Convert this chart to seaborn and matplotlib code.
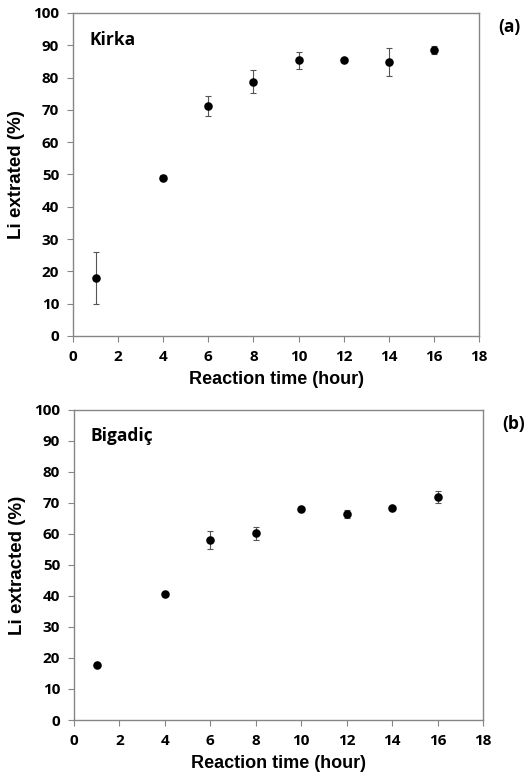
"""
Li extraction vs reaction time, Kirka and Bigadic
"""

import pandas as pd
import matplotlib.pyplot as plt
import seaborn as sns

# Data
hours = [1, 4, 6, 8, 10, 12, 14, 16]
kirka_li = [18.0, 49.0, 71.2, 78.7, 85.3, 85.3, 84.8, 88.6]
kirka_err = [8.0, 0.7, 3.2, 3.5, 2.5, 0.3, 4.2, 1.2]
bigadic_li = [17.6, 40.8, 58.0, 60.3, 68.0, 66.5, 68.5, 71.8]
bigadic_err = [0.4, 0.4, 2.8, 2.1, 0.5, 1.2, 0.5, 1.9]

x_ticks = list(range(0, 19, 2))
y_ticks = list(range(0, 101, 10))

GREY = "#868686"


def draw_panel(ax, values, errors, site, ylabel, tag):
    df = pd.DataFrame({"hour": hours, "li": values, "err": errors})
    ax.errorbar(df["hour"], df["li"], yerr=df["err"], fmt="none",
                ecolor="#555555", elinewidth=0.8, capsize=2, capthick=0.8,
                zorder=2)
    sns.scatterplot(data=df, x="hour", y="li", ax=ax, color="black",
                    s=38, edgecolor="black", linewidth=0, zorder=3)

    ax.set_xlim(0, 18)
    ax.set_ylim(0, 100)
    ax.set_xticks(x_ticks)
    ax.set_yticks(y_ticks)
    ax.tick_params(bottom=True, left=True, direction="out", length=4,
                   width=0.8, color=GREY, labelcolor="black", pad=6,
                   labelsize=11)
    for sp in ax.spines.values():
        sp.set_visible(True)
        sp.set_color(GREY)
        sp.set_linewidth(1.0)

    ax.set_xlabel("Reaction time (hour)", fontsize=13, fontweight="bold",
                  family="Liberation Sans", labelpad=5, color="black")
    ax.set_ylabel(ylabel, fontsize=13.5, fontweight="bold",
                  family="Liberation Sans", labelpad=6, color="black")
    ax.text(0.04, 0.945, site, transform=ax.transAxes, fontsize=12.5,
            fontweight="bold", va="top", ha="left", color="black")
    ax.text(1.075, 0.985, tag, transform=ax.transAxes, fontsize=12.5,
            fontweight="bold", va="top", ha="center", color="black")


sns.set_style("white")
plt.rcParams["font.family"] = ["Open Sans", "DejaVu Sans"]
plt.rcParams["font.weight"] = "bold"

fig = plt.figure(figsize=(5.31, 7.81), dpi=100)
ax_a = fig.add_axes([0.1375, 0.5698, 0.7646, 0.4136])
ax_b = fig.add_axes([0.1394, 0.0781, 0.7702, 0.3970])

draw_panel(ax_a, kirka_li, kirka_err, "Kirka", "Li extrated (%)", "(a)")
draw_panel(ax_b, bigadic_li, bigadic_err, "Bigadiç", "Li extracted (%)", "(b)")

fig.savefig("out.png", dpi=100)
plt.close(fig)
